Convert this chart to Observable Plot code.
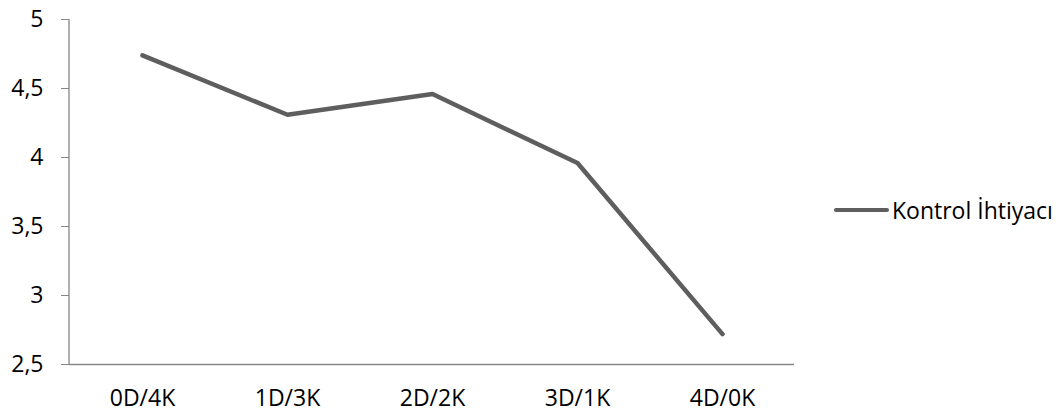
<!DOCTYPE html>
<html><head><meta charset="utf-8">
<script src="https://cdn.jsdelivr.net/npm/d3@7"></script>
<script src="https://cdn.jsdelivr.net/npm/@observablehq/plot@0.6"></script>
<style>
body{margin:0;background:#fff;}
#chart{position:relative;width:1063px;height:416px;}
.legend{position:absolute;left:834px;top:194px;height:32px;display:flex;align-items:center;font-family:"Open Sans",sans-serif;font-size:23px;color:#000;white-space:nowrap;}
.legend .sw{width:55px;height:4.5px;background:#5e5e5e;border-radius:2px;margin-right:3px;}
</style>
</head><body>
<div id="chart"></div>
<script>
const categories = ["0D/4K","1D/3K","2D/2K","3D/1K","4D/0K"];
const values = [4.74, 4.31, 4.46, 3.96, 2.72];
const seriesName = "Kontrol İhtiyacı";
const yTicks = [2.5, 3, 3.5, 4, 4.5, 5];

const data = categories.map((c,i)=>({cat:c, v:values[i]}));
const fmt = d => String(d).replace(".", ",");

const chart = Plot.plot({
  width: 1063, height: 416,
  marginLeft: 69, marginRight: 269, marginTop: 19, marginBottom: 52,
  style: {fontFamily: "'Open Sans', sans-serif", fontSize: "23px", color: "#000", background: "#fff", overflow: "visible"},
  x: {type: "point", domain: categories, padding: 0.5, label: null},
  y: {domain: [2.5, 5], label: null},
  marks: [
    Plot.axisY({ticks: yTicks, tickFormat: fmt, tickSize: 8, tickPadding: 18, stroke: "#868686", fill: "#000", fontSize: 23, label: null}),
    Plot.axisX({tickSize: 0, tickPadding: 25, fontSize: 23, fill: "#000", label: null}),
    Plot.ruleY([2.5], {stroke: "#868686", strokeWidth: 1.3}),
    (index, scales, values, dims) => {
      const l = d3.create("svg:line")
        .attr("x1", dims.marginLeft).attr("x2", dims.marginLeft)
        .attr("y1", scales.y(5)).attr("y2", scales.y(2.5))
        .attr("stroke", "#868686").attr("stroke-width", 1.3);
      return l.node();
    },
    Plot.line(data, {x: "cat", y: "v", stroke: "#5e5e5e", strokeWidth: 4.5, strokeLinecap: "round", strokeLinejoin: "round"})
  ]
});
const div = document.getElementById("chart");
div.appendChild(chart);
const lg = document.createElement("div");
lg.className = "legend";
lg.innerHTML = `<span class="sw"></span><span>${seriesName}</span>`;
div.appendChild(lg);
</script>
</body></html>
